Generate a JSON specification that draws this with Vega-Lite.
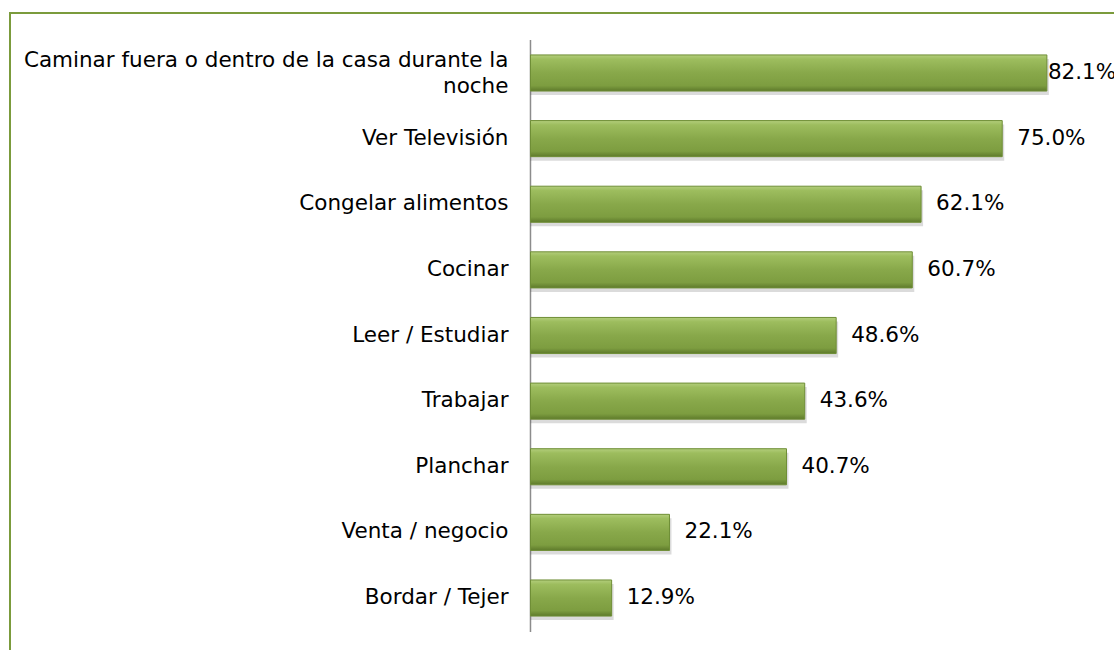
{
  "$schema": "https://vega.github.io/schema/vega-lite/v6.json",
  "autosize": {"type": "none"},
  "padding": {"left": 10, "top": 13, "right": -10, "bottom": -8},
  "width": 1114,
  "height": 645,
  "background": "#ffffff",
  "config": {
    "view": {"stroke": "#7B9B3C", "strokeWidth": 2},
    "font": "DejaVu Sans"
  },
  "data": {
    "values": [
      {"actividad": "Caminar fuera o dentro de la casa durante la\nnoche", "pct": 0.821},
      {"actividad": "Ver Televisión", "pct": 0.750},
      {"actividad": "Congelar alimentos", "pct": 0.621},
      {"actividad": "Cocinar", "pct": 0.607},
      {"actividad": "Leer / Estudiar", "pct": 0.486},
      {"actividad": "Trabajar", "pct": 0.436},
      {"actividad": "Planchar", "pct": 0.407},
      {"actividad": "Venta / negocio", "pct": 0.221},
      {"actividad": "Bordar / Tejer", "pct": 0.129}
    ]
  },
  "resolve": {"scale": {"y": "independent"}},
  "layer": [
    {
      "data": {"values": [{"linea": "eje"}]},
      "mark": {"type": "rule", "color": "#8C8C8C", "strokeWidth": 1.5},
      "encoding": {
        "x": {"datum": 0, "type": "quantitative", "scale": {"domain": [-0.8275, 0.9436], "nice": false}, "axis": null},
        "y": {"datum": 0, "type": "quantitative", "scale": {"domain": [-0.04392, 1.04561], "nice": false, "zero": false}, "axis": null},
        "y2": {"datum": 1}
      }
    },
    {
      "layer": [
        {
          "mark": {"type": "bar", "color": "#000000", "opacity": 0.14, "xOffset": 2, "yOffset": 4},
          "encoding": {
            "y": {"field": "actividad", "type": "nominal", "sort": null, "axis": null, "scale": {"paddingInner": 0.45, "paddingOuter": 0.639}},
            "x": {"field": "pct", "type": "quantitative", "scale": {"domain": [-0.8275, 0.9436], "nice": false}, "axis": null},
            "x2": {"datum": 0}
          }
        },
        {
          "mark": {
            "type": "bar",
            "stroke": "#6F8E36",
            "strokeWidth": 1,
            "color": {
              "gradient": "linear",
              "x1": 0, "y1": 0, "x2": 0, "y2": 1,
              "stops": [
                {"offset": 0, "color": "#B3CE7C"},
                {"offset": 0.12, "color": "#9DBD5E"},
                {"offset": 0.5, "color": "#88A84A"},
                {"offset": 0.85, "color": "#7D9D40"},
                {"offset": 1, "color": "#5E7A2B"}
              ]
            }
          },
          "encoding": {
            "y": {"field": "actividad", "type": "nominal", "sort": null, "axis": null},
            "x": {"field": "pct", "type": "quantitative", "axis": null},
            "x2": {"datum": 0}
          }
        },
        {
          "transform": [{"filter": "datum.pct < 0.8"}],
          "mark": {"type": "text", "align": "left", "baseline": "middle", "dx": 15, "fontSize": 21.5, "color": "#000000"},
          "encoding": {
            "y": {"field": "actividad", "type": "nominal", "sort": null, "axis": null},
            "x": {"field": "pct", "type": "quantitative", "axis": null},
            "text": {"field": "pct", "type": "quantitative", "format": ".1%"}
          }
        },
        {
          "transform": [{"filter": "datum.pct >= 0.8"}],
          "mark": {"type": "text", "align": "left", "baseline": "middle", "dx": 1, "fontSize": 21.5, "color": "#000000"},
          "encoding": {
            "y": {"field": "actividad", "type": "nominal", "sort": null, "axis": null},
            "x": {"field": "pct", "type": "quantitative", "axis": null},
            "text": {"field": "pct", "type": "quantitative", "format": ".1%"}
          }
        },
        {
          "transform": [{"filter": "datum.pct < 0.8"}],
          "mark": {"type": "text", "align": "right", "baseline": "middle", "dx": -22, "fontSize": 21.5, "color": "#000000"},
          "encoding": {
            "y": {"field": "actividad", "type": "nominal", "sort": null, "axis": null},
            "x": {"datum": 0, "type": "quantitative", "axis": null},
            "text": {"field": "actividad", "type": "nominal"}
          }
        },
        {
          "transform": [{"filter": "datum.pct >= 0.8"}],
          "mark": {"type": "text", "align": "right", "baseline": "middle", "dx": -22, "dy": -12, "fontSize": 21.5, "lineBreak": "\n", "lineHeight": 26, "color": "#000000"},
          "encoding": {
            "y": {"field": "actividad", "type": "nominal", "sort": null, "axis": null},
            "x": {"datum": 0, "type": "quantitative", "axis": null},
            "text": {"field": "actividad", "type": "nominal"}
          }
        }
      ]
    }
  ]
}
